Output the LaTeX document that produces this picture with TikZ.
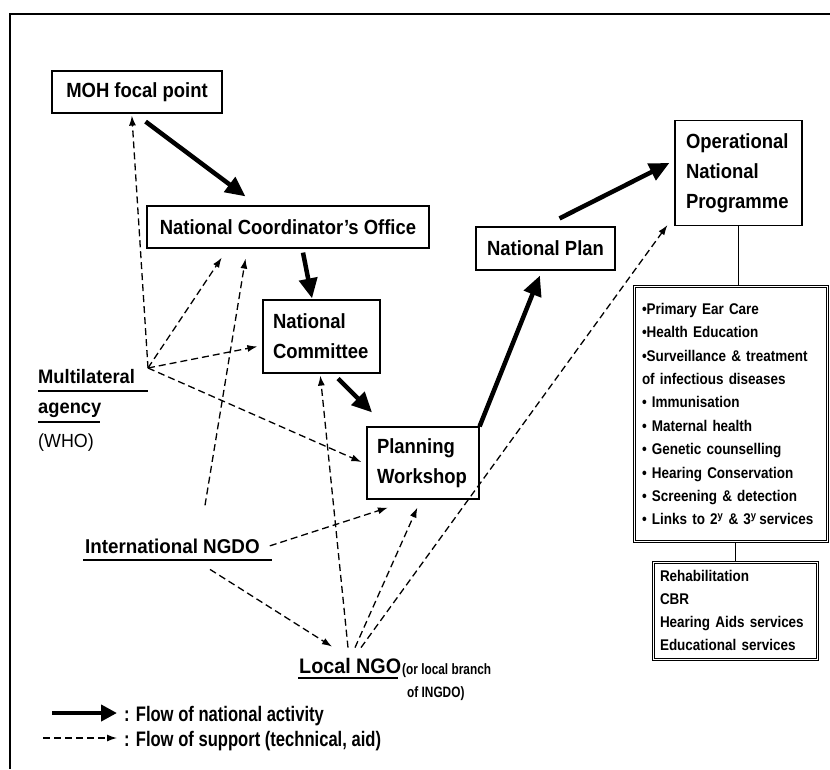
\documentclass[tikz,border=0pt]{standalone}
\usepackage{fontspec}
\setmainfont{Liberation Sans}
\newfontfamily\myboxf{Liberation Sans}[FakeStretch=0.9]
\newfontfamily\mylabf{Liberation Sans}[FakeStretch=0.94]
\newfontfamily\mylegf{Liberation Sans}[FakeStretch=0.79]
\newfontfamily\mylistf{Liberation Sans}[FakeStretch=0.87]
\usetikzlibrary{arrows.meta,calc}
\tikzset{
  box/.style={draw, line width=1.2pt, inner sep=0pt, font=\myboxf\bfseries\fontsize{20.5}{30}\selectfont},
  dbox/.style={draw, line width=1pt, inner sep=0pt},
  innerframe/.style={line width=0.9pt},
  nat/.style={line width=4.5pt, -{Triangle[length=20pt,width=18pt]}},
  sup/.style={line width=1.3pt, dash pattern=on 7pt off 4pt, -{Latex[length=10pt,width=7pt]}},
  lab/.style={inner sep=0pt, anchor=base west, font=\mylabf\bfseries\fontsize{20}{24}\selectfont},
  ul/.style={line width=1.3pt},
  plainline/.style={line width=1pt}
}
\begin{document}
\begin{tikzpicture}[x=1pt,y=-1pt]
\useasboundingbox (0,0) rectangle (830,769);
% frame
\draw[line width=2pt] (830,14) -- (10,14) -- (10,769);

% boxes
\node[box, minimum width=170pt, minimum height=42pt] (moh) at (137,92) {MOH focal point};
\node[box, minimum width=282pt, minimum height=42pt] (nco) at (288,227) {National Coordinator’s Office};
\node[box, minimum width=139pt, minimum height=43pt] (plan) at (545.5,248.5) {National Plan};
\node[box, minimum width=127pt, minimum height=105pt, text width=105pt, align=left] (op) at (738.5,173) {Operational\\National\\Programme};
\node[box, minimum width=117pt, minimum height=73pt, text width=97pt, align=left] (com) at (321.5,336.5) {National\\Committee};
\node[box, minimum width=112pt, minimum height=72pt, text width=92pt, align=left] (pw) at (423,463) {Planning\\Workshop};

\node[dbox, minimum width=195pt, minimum height=257pt, text width=177pt, align=left,
      font=\mylistf\bfseries\fontsize{15.5}{23.4}\selectfont] (list) at (730.5,414)
 {•Primary Ear Care\\
  •Health Education\\
  •Surveillance \& treatment\\
  of infectious diseases\\
  • Immunisation\\
  • Maternal health\\
  • Genetic counselling\\
  • Hearing Conservation\\
  • Screening \& detection\\
  • Links to 2\textsuperscript{y} \& 3\textsuperscript{y}\,services};
\draw[innerframe] ($(list.north west)+(2.5,2.5)$) rectangle ($(list.south east)+(-2.5,-2.5)$);
\node[dbox, minimum width=166pt, minimum height=99pt, text width=150pt, align=left,
      font=\mylistf\bfseries\fontsize{15.5}{23}\selectfont] (rehab) at (735,610.5)
 {Rehabilitation\\CBR\\Hearing Aids services\\Educational services};
\draw[innerframe] ($(rehab.north west)+(2.5,2.5)$) rectangle ($(rehab.south east)+(-2.5,-2.5)$);

\draw[plainline] (op.south) -- (op.south |- list.north);
\draw[plainline] (rehab.north |- list.south) -- (rehab.north);

% labels
\node[lab, font=\mylabf\bfseries\fontsize{19.5}{24}\selectfont] (mult) at (38,383) {Multilateral};
\node[lab, font=\mylabf\bfseries\fontsize{19.5}{24}\selectfont] (agency) at (38,413) {agency};
\node[lab, font=\mylabf\fontsize{19}{24}\selectfont] (who) at (38,447) {(WHO)};
\draw[ul] (38,391) -- (148,391);
\draw[ul] (38,422) -- (100,422);
\coordinate (hub) at (148,368);

\node[lab] (ingdo) at (85,553) {International NGDO};
\draw[ul] (83,560) -- (272,560);

\node[lab, font=\mylabf\bfseries\fontsize{21}{24}\selectfont] (local) at (299,673) {Local NGO};
\draw[ul] (298,678) -- (398,678);
\node[lab, font=\mylegf\bfseries\fontsize{15}{15}\selectfont] (branch1) at (402,674) {(or local branch};
\node[lab, font=\mylegf\bfseries\fontsize{15}{15}\selectfont] (branch2) at (407,697) {of INGDO)};

% national activity arrows
\draw[nat] ($(moh.south west)!0.55!(moh.south east)+(0,8)$) -- ($(nco.north west)!0.35!(nco.north east)+(0,-9)$);
\draw[nat] ($(nco.south west)!0.553!(nco.south east)+(0,4)$) -- ($(com.north west)!0.42!(com.north east)+(0,-1)$);
\draw[nat] ($(com.south west)!0.64!(com.south east)+(0,5)$) -- ($(pw.north west)!0.05!(pw.north east)+(0,-14)$);
\draw[nat] (pw.north east) -- ($(plan.south west)!0.46!(plan.south east)+(0,5)$);
\draw[nat] ($(plan.north west)!0.6!(plan.north east)+(0,-8)$) -- ($(op.west)+(-5,-10)$);

% support arrows
\draw[sup] (hub) -- ($(moh.south west)!0.47!(moh.south east)+(0,2)$);
\draw[sup] (hub) -- ($(nco.south west)!0.266!(nco.south east)+(0,9)$);
\draw[sup] (hub) -- ($(com.west)+(-5,10)$);
\draw[sup] (hub) -- ($(pw.west)+(-5,-1)$);
\draw[sup] ($(ingdo.north west)+(120,-33)$) -- ($(nco.south west)!0.35!(nco.south east)+(0,10)$);
\draw[sup] ($(ingdo.east)+(10,0)$) -- ($(pw.south west)!0.19!(pw.south east)+(0,8)$);
\draw[sup] ($(ingdo.south west)+(125,16)$) -- ($(local.north west)+(33,-11)$);
\draw[sup] ($(local.north west)+(49,-10)$) -- ($(com.south west)!0.49!(com.south east)+(0,2)$);
\draw[sup] ($(local.north west)+(56,-10)$) -- ($(pw.south west)!0.45!(pw.south east)+(0,8)$);
\draw[sup] ($(local.north west)+(62,-10)$) -- ($(op.south west)+(-7,-1)$);

% legend
\coordinate (la) at (52,713);
\coordinate (lb) at (117,713);
\coordinate (lc) at (43,738);
\coordinate (ld) at (117,738);
\draw[line width=4pt, -{Triangle[length=16pt,width=16pt]}] (la) -- (lb);
\draw[sup] (lc) -- (ld);
\node[lab, font=\mylegf\bfseries\fontsize{21}{24}\selectfont] (leg1) at (124,721) {: Flow of national activity};
\node[lab, font=\mylegf\bfseries\fontsize{21}{24}\selectfont] (leg2) at (124,746) {: Flow of support (technical, aid)};
\end{tikzpicture}
\end{document}
